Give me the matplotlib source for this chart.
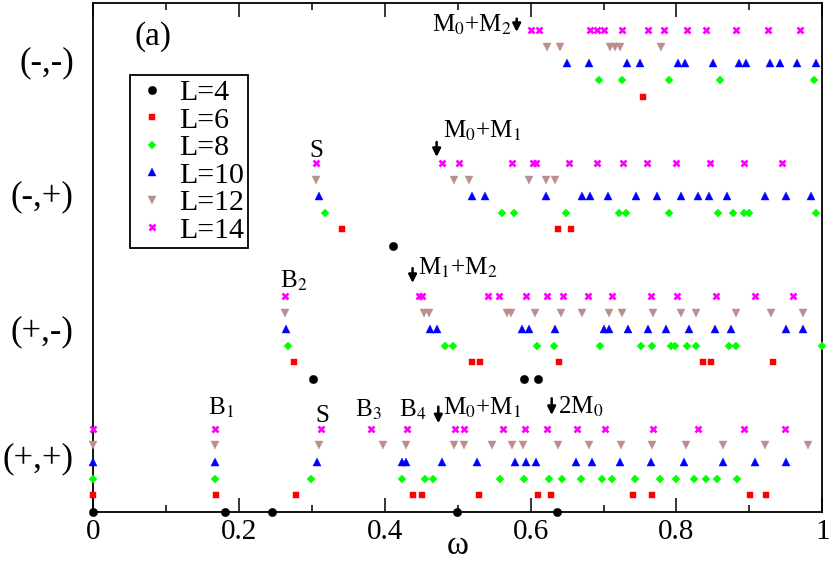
import matplotlib.pyplot as plt

plt.rcParams['font.family'] = ['Liberation Serif', 'DejaVu Serif']
plt.rcParams['mathtext.fontset'] = 'stix'

# omega of the low-lying levels, per symmetry sector and chain length L
# sector (+,+)
pp_L4 = [0, 0.18, 0.245, 0.499, 0.636]
pp_L6 = [0, 0.168, 0.278, 0.438, 0.4505, 0.529, 0.610, 0.628, 0.740, 0.767, 0.901, 0.923]
pp_L8 = [0, 0.167, 0.298, 0.424, 0.455, 0.466, 0.558, 0.591, 0.625, 0.643, 0.669,
         0.698, 0.712, 0.7435, 0.777, 0.800, 0.824, 0.841, 0.856, 0.883]
pp_L10 = [0, 0.167, 0.307, 0.4235, 0.429, 0.478, 0.527, 0.578, 0.594, 0.607, 0.662,
          0.684, 0.7225, 0.765, 0.810, 0.864, 0.908, 0.950]
pp_L12 = [0, 0.167, 0.310, 0.398, 0.429, 0.495, 0.508, 0.5465, 0.574, 0.589, 0.638,
          0.680, 0.724, 0.767, 0.813, 0.864, 0.922, 0.980]
pp_L14 = [0, 0.167, 0.312, 0.381, 0.431, 0.496, 0.5085, 0.562, 0.592, 0.623, 0.664,
          0.7015, 0.768, 0.829, 0.893, 0.949]
# sector (+,-)
pm_L4 = [0.302, 0.591, 0.610]
pm_L6 = [0.275, 0.520, 0.5305, 0.639, 0.836, 0.848, 0.933]
pm_L8 = [0.267, 0.482, 0.493, 0.609, 0.632, 0.695, 0.751, 0.767, 0.793, 0.798, 0.815,
         0.827, 0.8715, 0.882, 1.0]
pm_L10 = [0.264, 0.462, 0.472, 0.5875, 0.598, 0.633, 0.701, 0.708, 0.734, 0.761, 0.785,
          0.817, 0.853, 0.875, 0.950, 0.974]
pm_L12 = [0.263, 0.453, 0.460, 0.567, 0.5725, 0.606, 0.641, 0.670, 0.707, 0.725, 0.768,
          0.806, 0.827, 0.881, 0.930, 0.974]
pm_L14 = [0.263, 0.447, 0.451, 0.542, 0.556, 0.594, 0.622, 0.645, 0.678, 0.711, 0.765,
          0.801, 0.854, 0.908, 0.960]
# sector (-,+)
mp_L4 = [0.4115]
mp_L6 = [0.341, 0.638, 0.655]
mp_L8 = [0.318, 0.560, 0.577, 0.648, 0.7215, 0.731, 0.790, 0.8565, 0.877, 0.893, 0.8995, 0.992]
mp_L10 = [0.310, 0.520, 0.538, 0.621, 0.671, 0.681, 0.706, 0.744, 0.773, 0.806, 0.830,
          0.844, 0.869, 0.922, 0.950, 0.984]
mp_L12 = [0.306, 0.495, 0.515, 0.598, 0.621, 0.634]
mp_L14 = [0.3055, 0.479, 0.502, 0.575, 0.603, 0.607, 0.653, 0.6905, 0.726, 0.759, 0.799,
          0.846, 0.892, 0.945]
# sector (-,-)
mm_L4 = []
mm_L6 = [0.7545]
mm_L8 = [0.694, 0.725, 0.790, 0.860, 0.988]
mm_L10 = [0.650, 0.680, 0.732, 0.750, 0.8025, 0.812, 0.850, 0.886, 0.895, 0.928, 0.942,
          0.965, 0.991]
mm_L12 = [0.622, 0.640, 0.709, 0.716, 0.722, 0.779]
mm_L14 = [0.601, 0.611, 0.681, 0.6905, 0.7005, 0.725, 0.761, 0.783, 0.815, 0.841, 0.881,
          0.926, 0.969]

L_values = [4, 6, 8, 10, 12, 14]
sector_names = ['(+,+)', '(+,-)', '(-,+)', '(-,-)']
sector_label_y = [3.4, 11.1, 19.2, 27.3]

sectors = [
    (0, [pp_L4, pp_L6, pp_L8, pp_L10, pp_L12, pp_L14]),
    (8, [pm_L4, pm_L6, pm_L8, pm_L10, pm_L12, pm_L14]),
    (16, [mp_L4, mp_L6, mp_L8, mp_L10, mp_L12, mp_L14]),
    (24, [mm_L4, mm_L6, mm_L8, mm_L10, mm_L12, mm_L14]),
]

markers = ['o', 's', 'D', '^', 'v', 'x']
colors = ['black', 'red', '#00ff00', 'blue', '#bc8f8f', 'magenta']
msizes = [6.0, 5.0, 4.0, 5.6, 5.6, 4.8]

fig = plt.figure(figsize=(8.3, 5.66), dpi=100)
ax = fig.add_axes([0.1124, 0.0959, 0.8783, 0.8996])

for k, (base, rows) in enumerate(sectors):
    for i, xs in enumerate(rows):
        ax.plot(xs, [base + i] * len(xs), linestyle='none', marker=markers[i],
                color=colors[i], ms=msizes[i],
                mew=1.9 if markers[i] == 'x' else 0.3,
                clip_on=False, zorder=3,
                label='L=%d' % L_values[i] if k == 0 else None)

# labels and arrows
txt = dict(fontsize=18, va='baseline', ha='left')
ax.text(0.157, 5.83, 'B$_1$', **txt)
ax.text(0.304, 5.4, 'S', **txt)
ax.text(0.359, 5.7, 'B$_3$', **txt)
ax.text(0.419, 5.7, 'B$_4$', **txt)
ax.text(0.4797, 5.83, 'M$_0$+M$_1$', **txt)
ax.text(0.6375, 5.93, '2M$_0$', **txt)
ax.text(0.256, 13.48, 'B$_2$', **txt)
ax.text(0.4454, 14.25, 'M$_1$+M$_2$', **txt)
ax.text(0.297, 21.37, 'S', **txt)
ax.text(0.4797, 22.5, 'M$_0$+M$_1$', **txt)
ax.text(0.4646, 28.9, 'M$_0$+M$_2$', **txt)
ax.text(0.057, 28.6, '(a)', fontsize=24, va='center', ha='left')

arrows = [(0.4733, 6.33, 5.33), (0.6288, 6.83, 5.83), (0.438, 14.67, 13.78),
          (0.471, 22.27, 21.37), (0.5808, 29.7, 28.9)]
for x, y0, y1 in arrows:
    ax.annotate('', xy=(x, y1), xytext=(x, y0),
                arrowprops=dict(arrowstyle='-|>', color='black', lw=1.8,
                                mutation_scale=12, shrinkA=0, shrinkB=0))

ax.set_xlim(0, 1)
ax.set_ylim(0, 30.67)
ax.set_xticks([0, 0.2, 0.4, 0.6, 0.8, 1])
ax.set_xticklabels(['0', '0.2', '0.4', '0.6', '0.8', '1'])
ax.set_xticks([0.1, 0.3, 0.5, 0.7, 0.9], minor=True)
ax.set_yticks(sector_label_y)
ax.set_yticklabels(sector_names)
ax.tick_params(axis='x', which='both', direction='in', top=True, labelsize=21, pad=5, width=1.1)
ax.tick_params(axis='x', which='major', length=10)
ax.tick_params(axis='x', which='minor', length=5)
ax.tick_params(axis='y', length=0, labelsize=25, pad=14)
for sp in ax.spines.values():
    sp.set_linewidth(1.3)
ax.set_xlabel('ω', fontsize=24, labelpad=-10)

leg = ax.legend(loc='upper left', bbox_to_anchor=(0.0503, 0.8576), borderaxespad=0,
                fontsize=21.5, numpoints=1, fancybox=False, edgecolor='black',
                framealpha=1, handlelength=1.17, handletextpad=0.32, borderpad=0.15,
                labelspacing=0.02)
leg.get_frame().set_linewidth(1.3)

fig.savefig('out.png', dpi=100)
